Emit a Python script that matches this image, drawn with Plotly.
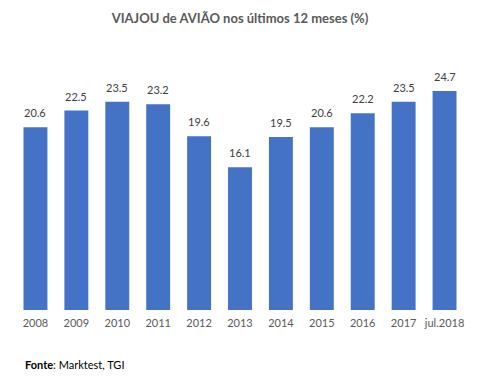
import plotly.graph_objects as go

categories = ["2008", "2009", "2010", "2011", "2012", "2013", "2014", "2015", "2016", "2017", "jul.2018"]
values = [20.6, 22.5, 23.5, 23.2, 19.6, 16.1, 19.5, 20.6, 22.2, 23.5, 24.7]
title_text = "<b>VIAJOU de AVIÃO nos últimos 12 meses (%)</b>"
source_text = "<b>Fonte</b>: Marktest, TGI"

FONT = "Lato, Carlito, Calibri, sans-serif"

fig = go.Figure(go.Bar(
    x=categories, y=values,
    marker=dict(color="#4472C4", line=dict(width=0)),
    width=0.585,
    hoverinfo="skip",
))

value_labels = [dict(x=i, y=v, text=f"{v:.1f}", xref="x", yref="y",
                     xanchor="center", yanchor="bottom", yshift=6, showarrow=False,
                     font=dict(family=FONT, size=11, color="#404040"))
                for i, v in enumerate(values)]

fig.update_layout(
    width=478, height=386,
    margin=dict(l=14.5, r=12.5, t=44, b=76),
    paper_bgcolor="white", plot_bgcolor="white",
    showlegend=False,
    bargap=0.415,
    title=dict(text=title_text, x=0.5, xanchor="center", xref="paper",
               y=1 - 18 / 386, yanchor="middle", yref="container",
               font=dict(family=FONT, size=13, color="#595959")),
    xaxis=dict(type="category", categoryorder="array", categoryarray=categories,
               showgrid=False, showline=False, ticks="", ticklabelstandoff=5,
               tickfont=dict(family=FONT, size=11, color="#595959")),
    yaxis=dict(range=[0, 30], visible=False, showgrid=False),
    annotations=value_labels + [dict(text=source_text, xref="paper", yref="paper",
                      x=(23 - 14.5) / 451, y=-54 / 266, xanchor="left", yanchor="middle",
                      showarrow=False,
                      font=dict(family=FONT, size=11, color="#000000"))],
)

fig.write_html("out.html", config={"displayModeBar": False},
               post_script="document.body.style.margin='0';")
